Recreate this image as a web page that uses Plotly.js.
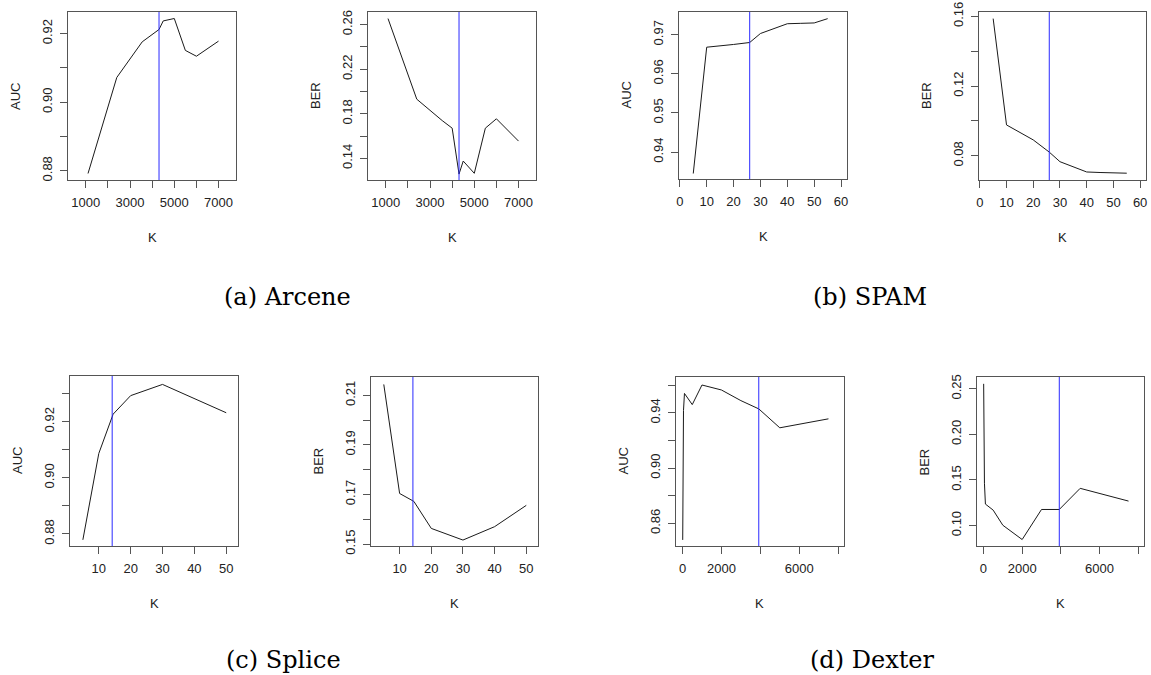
<!DOCTYPE html>
<html>
<head>
<meta charset="utf-8">
<script src="https://cdn.plot.ly/plotly-3.0.1.min.js"></script>
<style>
  html, body { margin: 0; padding: 0; background: #ffffff; }
  #chart { width: 1151px; height: 675px; }
</style>
</head>
<body>
<div id="chart"></div>
<script>
// ---------------- DATA ----------------
// (a) Arcene
const arceneK   = [1100, 2400, 3550, 4000, 4310, 4500, 5000, 5500, 6000, 7000];
const arceneAUC = [0.8792, 0.9072, 0.9176, 0.9197, 0.9212, 0.9237, 0.9244, 0.9151, 0.9134, 0.9178];
const arceneBER = [0.2654, 0.1931, 0.1739, 0.1671, 0.1259, 0.1376, 0.1266, 0.1671, 0.1755, 0.1555];
const arceneCut = 4310;

// (b) SPAM
const spamK   = [5, 10, 20, 26, 30, 40, 45, 50, 55];
const spamAUC = [0.9345, 0.9668, 0.9675, 0.9680, 0.9703, 0.9728, 0.9729, 0.9730, 0.9741];
const spamBER = [0.1587, 0.0977, 0.0891, 0.0821, 0.0766, 0.0707, 0.0704, 0.0703, 0.0700];
const spamCut = 26;

// (c) Splice
const spliceK   = [5, 10, 14.5, 20, 30, 40, 50];
const spliceAUC = [0.8779, 0.9087, 0.9227, 0.9293, 0.9333, 0.9283, 0.9232];
const spliceBER = [0.2144, 0.1704, 0.1672, 0.1563, 0.1516, 0.1570, 0.1656];
const spliceCut = 14.2;

// (d) Dexter
const dexterK   = [10, 20, 50, 100, 500, 1000, 2000, 3000, 3920, 5000, 7500];
const dexterAUC = [0.848, 0.914, 0.9417, 0.9541, 0.946, 0.9602, 0.9566, 0.9489, 0.9429, 0.9292, 0.9357];
const dexterBER = [0.2555, 0.1905, 0.1464, 0.1235, 0.1169, 0.1003, 0.0846, 0.1176, 0.1176, 0.1408, 0.1268];
const dexterCut = 3920;

// tick values and labels ("" = tick without label)
const arceneXTicks  = [1000, 2000, 3000, 4000, 5000, 6000, 7000];
const arceneXLabels = ["1000", "", "3000", "", "5000", "", "7000"];
const arceneAUCTicks  = [0.88, 0.89, 0.90, 0.91, 0.92];
const arceneAUCLabels = ["0.88", "", "0.90", "", "0.92"];
const arceneBERTicks  = [0.14, 0.16, 0.18, 0.20, 0.22, 0.24, 0.26];
const arceneBERLabels = ["0.14", "", "0.18", "", "0.22", "", "0.26"];

const spamXTicks  = [0, 10, 20, 30, 40, 50, 60];
const spamXLabels = ["0", "10", "20", "30", "40", "50", "60"];
const spamAUCTicks  = [0.94, 0.95, 0.96, 0.97];
const spamAUCLabels = ["0.94", "0.95", "0.96", "0.97"];
const spamBERTicks  = [0.08, 0.10, 0.12, 0.14, 0.16];
const spamBERLabels = ["0.08", "", "0.12", "", "0.16"];

const spliceXTicks  = [10, 20, 30, 40, 50];
const spliceXLabels = ["10", "20", "30", "40", "50"];
const spliceAUCTicks  = [0.88, 0.89, 0.90, 0.91, 0.92, 0.93];
const spliceAUCLabels = ["0.88", "", "0.90", "", "0.92", ""];
const spliceBERTicks  = [0.15, 0.16, 0.17, 0.18, 0.19, 0.20, 0.21];
const spliceBERLabels = ["0.15", "", "0.17", "", "0.19", "", "0.21"];

const dexterXTicks  = [0, 2000, 4000, 6000, 8000];
const dexterXLabels = ["0", "2000", "", "6000", ""];
const dexterAUCTicks  = [0.86, 0.88, 0.90, 0.92, 0.94, 0.96];
const dexterAUCLabels = ["0.86", "", "0.90", "", "0.94", ""];
const dexterBERTicks  = [0.10, 0.15, 0.20, 0.25];
const dexterBERLabels = ["0.10", "0.15", "0.20", "0.25"];

const captions = ["(a) Arcene", "(b) SPAM", "(c) Splice", "(d) Dexter"];

// ---------------- LAYOUT ----------------
const W = 1151, H = 675;
const panels = [
  {k: arceneK, v: arceneAUC, cut: arceneCut, yt: "AUC", box: [68, 236, 12, 180],  xr: [195, 7790], yr: [0.8773, 0.9263], xt: arceneXTicks, xl: arceneXLabels, ytv: arceneAUCTicks, ytl: arceneAUCLabels},
  {k: arceneK, v: arceneBER, cut: arceneCut, yt: "BER", box: [368, 536, 12, 180], xr: [195, 7790], yr: [0.1206, 0.2713], xt: arceneXTicks, xl: arceneXLabels, ytv: arceneBERTicks, ytl: arceneBERLabels},
  {k: spamK, v: spamAUC, cut: spamCut, yt: "AUC", box: [679, 847, 12, 179], xr: [-0.3, 62.2], yr: [0.9331, 0.9758], xt: spamXTicks, xl: spamXLabels, ytv: spamAUCTicks, ytl: spamAUCLabels},
  {k: spamK, v: spamBER, cut: spamCut, yt: "BER", box: [979, 1146, 12, 180], xr: [-0.3, 62.2], yr: [0.0661, 0.1625], xt: spamXTicks, xl: spamXLabels, ytv: spamBERTicks, ytl: spamBERLabels},
  {k: spliceK, v: spliceAUC, cut: spliceCut, yt: "AUC", box: [70, 238, 376, 546], xr: [0.96, 53.7], yr: [0.8757, 0.9363], xt: spliceXTicks, xl: spliceXLabels, ytv: spliceAUCTicks, ytl: spliceAUCLabels},
  {k: spliceK, v: spliceBER, cut: spliceCut, yt: "BER", box: [371, 538, 377, 546], xr: [0.96, 53.7], yr: [0.1492, 0.2174], xt: spliceXTicks, xl: spliceXLabels, ytv: spliceBERTicks, ytl: spliceBERLabels},
  {k: dexterK, v: dexterAUC, cut: dexterCut, yt: "AUC", box: [676, 844, 377, 546], xr: [-335, 8300], yr: [0.8436, 0.966], xt: dexterXTicks, xl: dexterXLabels, ytv: dexterAUCTicks, ytl: dexterAUCLabels},
  {k: dexterK, v: dexterBER, cut: dexterCut, yt: "BER", box: [977, 1144, 377, 546], xr: [-335, 8300], yr: [0.0775, 0.263], xt: dexterXTicks, xl: dexterXLabels, ytv: dexterBERTicks, ytl: dexterBERLabels}
];
const captionPos = [[287, 297], [870, 297], [283, 660], [872, 660]];

const tickFont = {family: "Liberation Sans, Arial, sans-serif", size: 13, color: "#222"};
const boxColor = "#555";

const traces = [];
const layout = {
  width: W, height: H,
  margin: {l: 0, r: 0, t: 0, b: 0},
  paper_bgcolor: "#ffffff", plot_bgcolor: "#ffffff",
  showlegend: false,
  shapes: [], annotations: []
};

panels.forEach((p, i) => {
  const n = i + 1;
  const xa = "x" + (n === 1 ? "" : n), ya = "y" + (n === 1 ? "" : n);
  const [l, r, t, b] = p.box;
  traces.push({
    type: "scatter", mode: "lines", x: p.k, y: p.v,
    xaxis: xa, yaxis: ya,
    line: {color: "#1a1a1a", width: 1}, hoverinfo: "x+y"
  });
  const common = {
    autorange: false, showgrid: false, zeroline: false,
    showline: true, mirror: true, linecolor: boxColor, linewidth: 1,
    ticks: "outside", ticklen: 7, tickwidth: 1, tickcolor: boxColor,
    tickmode: "array", tickfont: tickFont
  };
  layout["xaxis" + (n === 1 ? "" : n)] = Object.assign({}, common, {
    domain: [l / W, r / W], range: p.xr, anchor: ya,
    tickvals: p.xt, ticktext: p.xl, ticklabelstandoff: 3
  });
  layout["yaxis" + (n === 1 ? "" : n)] = Object.assign({}, common, {
    domain: [1 - b / H, 1 - t / H], range: p.yr, anchor: xa,
    tickvals: p.ytv, ticktext: p.ytl, tickangle: -90, ticklabelstandoff: 3
  });
  layout.shapes.push({
    type: "line", xref: xa, yref: ya + " domain",
    x0: p.cut, x1: p.cut, y0: 0, y1: 1,
    line: {color: "#2a2aff", width: 1}
  });
  layout.annotations.push({
    text: "K", xref: "paper", yref: "paper",
    x: ((l + r) / 2) / W, y: 1 - (b + 57) / H,
    xanchor: "center", yanchor: "middle", showarrow: false, font: tickFont
  });
  layout.annotations.push({
    text: p.yt, xref: "paper", yref: "paper", textangle: -90,
    x: (l - 53) / W, y: 1 - ((t + b) / 2) / H,
    xanchor: "center", yanchor: "middle", showarrow: false, font: tickFont
  });
});

captions.forEach((c, i) => {
  layout.annotations.push({
    text: c, xref: "paper", yref: "paper",
    x: captionPos[i][0] / W, y: 1 - captionPos[i][1] / H,
    xanchor: "center", yanchor: "middle", showarrow: false,
    font: {family: "DejaVu Serif, Liberation Serif, serif", size: 24, color: "#000"}
  });
});

Plotly.newPlot("chart", traces, layout, {staticPlot: true, displayModeBar: false});
</script>
</body>
</html>
